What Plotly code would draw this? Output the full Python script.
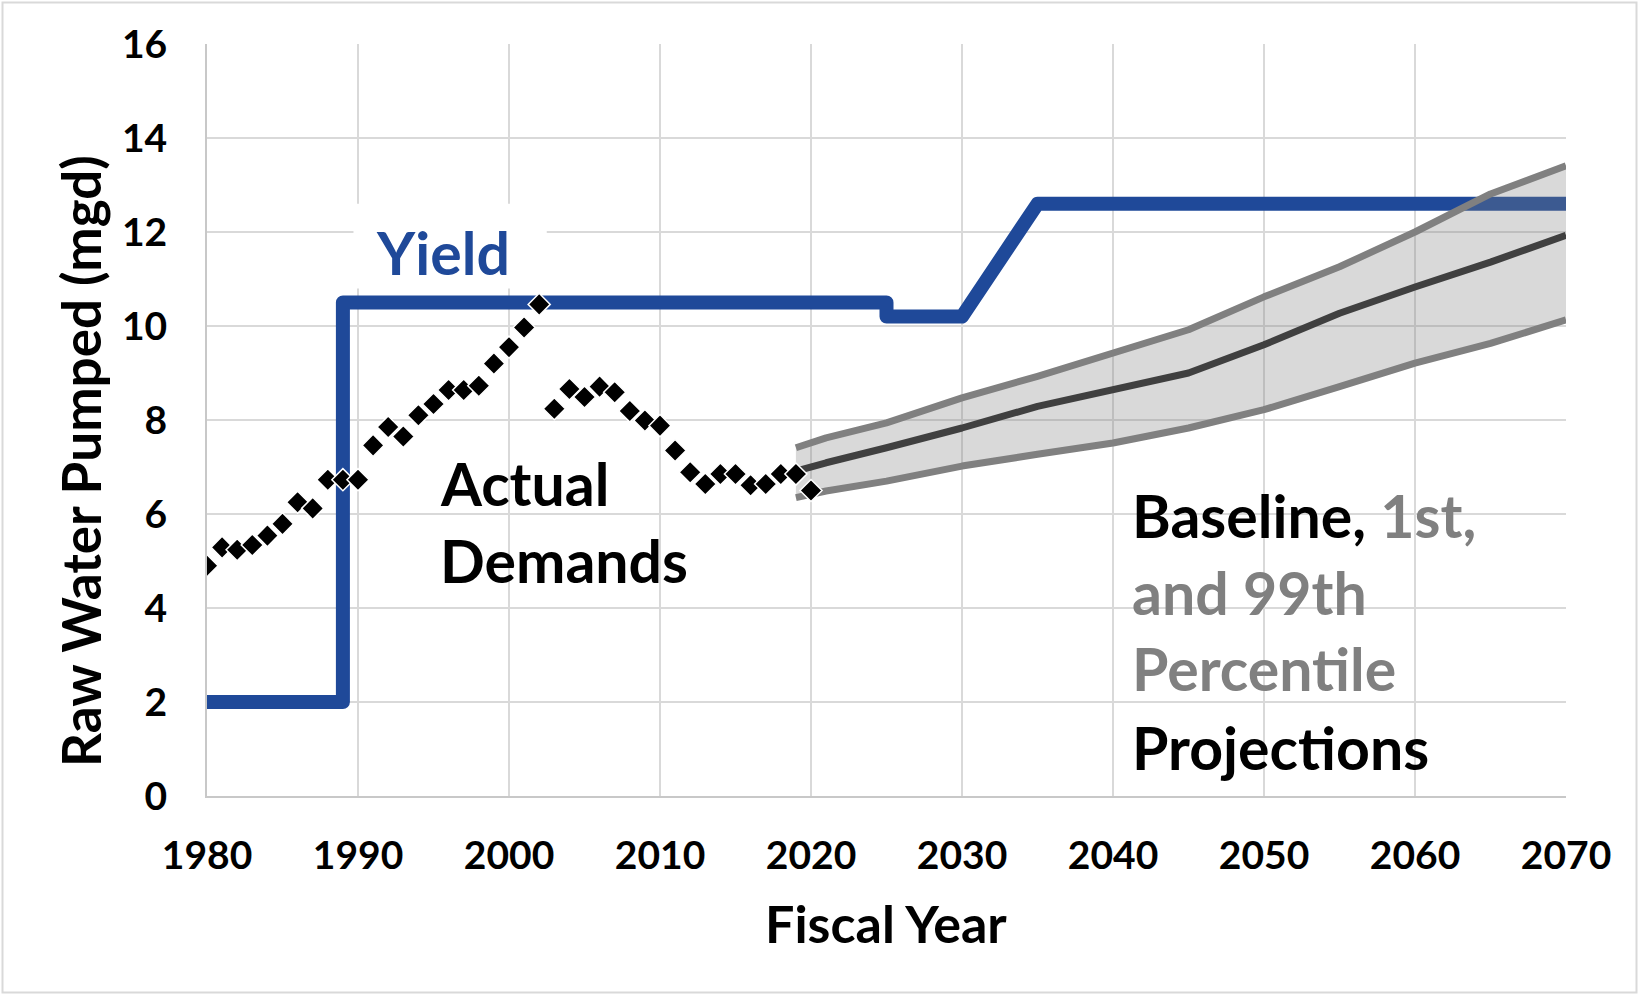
import plotly.graph_objects as go

# ---- data ----
actual_years = list(range(1980, 2021))
actual_mgd = [4.90, 5.29, 5.24, 5.34, 5.54, 5.79, 6.25, 6.12, 6.73, 6.73,
              6.73, 7.46, 7.85, 7.65, 8.10, 8.34, 8.64, 8.64, 8.73, 9.20,
              9.55, 9.97, 10.46, 8.24, 8.66, 8.49, 8.71, 8.59, 8.19, 7.99,
              7.88, 7.35, 6.89, 6.64, 6.85, 6.85, 6.61, 6.64, 6.85, 6.85,
              6.50]

yield_years = [1980, 1989, 1989, 2025, 2025, 2030, 2035, 2070]
yield_mgd = [2.0, 2.0, 10.5, 10.5, 10.2, 10.2, 12.6, 12.6]

proj_years = [2019, 2021, 2025, 2030, 2035, 2040, 2045, 2050, 2055, 2060, 2065, 2070]
proj_p99 = [7.41, 7.62, 7.94, 8.47, 8.93, 9.42, 9.92, 10.62, 11.26, 12.00, 12.81, 13.41]
proj_base = [6.91, 7.09, 7.41, 7.83, 8.29, 8.64, 9.00, 9.60, 10.27, 10.83, 11.36, 11.93]
proj_p01 = [6.35, 6.49, 6.70, 7.02, 7.27, 7.51, 7.83, 8.22, 8.71, 9.21, 9.63, 10.13]

x_ticks = list(range(1980, 2071, 10))
y_ticks = list(range(0, 17, 2))

# ---- style ----
FONT = "Lato"
BLUE = "#1F4999"
GRAY = "#808080"
DARK = "#404040"
W, H = 1639, 995
ML, MR, MT, MB = 207, 73, 44, 199

fig = go.Figure()

fig.add_trace(go.Scatter(x=yield_years, y=yield_mgd, mode="lines",
                         line=dict(color=BLUE, width=14), name="Yield",
                         showlegend=False))
# band (1st .. 99th)
fig.add_trace(go.Scatter(x=proj_years, y=proj_p01, mode="lines",
                         line=dict(color=GRAY, width=7), showlegend=False))
fig.add_trace(go.Scatter(x=proj_years, y=proj_p99, mode="lines",
                         line=dict(color=GRAY, width=7), fill="tonexty",
                         fillcolor="rgba(128,128,128,0.3)", showlegend=False))
fig.add_trace(go.Scatter(x=proj_years, y=proj_base, mode="lines",
                         line=dict(color=DARK, width=7), showlegend=False))
fig.add_trace(go.Scatter(x=actual_years, y=actual_mgd, mode="markers",
                         marker=dict(symbol="diamond", size=17, color="black",
                                     line=dict(color="white", width=1.5)),
                         showlegend=False))

pw = W - ML - MR
ph = H - MT - MB

def px2paper_x(px):
    return (px - ML) / pw

def px2paper_y(py):
    return (H - MB - py) / ph

shapes = [
    # white box behind "Yield"
    dict(type="rect", xref="x", yref="y", x0=1989.7, x1=2002.5, y0=10.8, y1=12.6,
         fillcolor="white", line=dict(width=0), layer="between"),
    # outer chart border
    dict(type="rect", xref="paper", yref="paper",
         x0=px2paper_x(2.5), x1=px2paper_x(W - 2.5),
         y0=px2paper_y(H - 2.5), y1=px2paper_y(2.5),
         line=dict(color="#d9d9d9", width=2), fillcolor="rgba(0,0,0,0)", layer="above"),
]

FS = 59
ann_font = dict(family=FONT, size=FS, color="black")
gray_font = dict(family=FONT, size=FS, color=GRAY)
annotations = [
    dict(x=1995.6, y=11.56, xref="x", yref="y", text="<b>Yield</b>", showarrow=False,
         xanchor="center", yanchor="middle", font=dict(family=FONT, size=FS, color=BLUE)),
    dict(x=1995.3, y=6.64, xref="x", yref="y", text="<b>Actual</b>", showarrow=False,
         xanchor="left", yanchor="middle", font=ann_font),
    dict(x=1995.3, y=5.02, xref="x", yref="y", text="<b>Demands</b>", showarrow=False,
         xanchor="left", yanchor="middle", font=ann_font),
    dict(x=2041.15, y=5.97, xref="x", yref="y",
         text='<b>Baseline, <span style="color:#808080">1st,</span></b>', showarrow=False,
         xanchor="left", yanchor="middle", font=ann_font),
    dict(x=2041.15, y=4.33, xref="x", yref="y", text="<b>and 99th</b>", showarrow=False,
         xanchor="left", yanchor="middle", font=gray_font),
    dict(x=2041.15, y=2.71, xref="x", yref="y", text="<b>Percentile</b>", showarrow=False,
         xanchor="left", yanchor="middle", font=gray_font),
    dict(x=2041.15, y=1.03, xref="x", yref="y", text="<b>Projections</b>", showarrow=False,
         xanchor="left", yanchor="middle", font=ann_font),
    # axis titles
    dict(x=px2paper_x(80), y=px2paper_y(461), xref="paper", yref="paper",
         text="<b>Raw Water Pumped (mgd)</b>", textangle=-90, showarrow=False,
         xanchor="center", yanchor="middle", font=dict(family=FONT, size=53, color="black")),
    dict(x=px2paper_x(886), y=px2paper_y(923), xref="paper", yref="paper",
         text="<b>Fiscal Year</b>", showarrow=False,
         xanchor="center", yanchor="middle", font=dict(family=FONT, size=52, color="black")),
]

fig.update_layout(
    width=W, height=H,
    margin=dict(l=ML, r=MR, t=MT, b=MB, autoexpand=False),
    paper_bgcolor="white", plot_bgcolor="white",
    font=dict(family=FONT, color="black"),
    shapes=shapes, annotations=annotations,
    showlegend=False,
)
fig.update_xaxes(range=[1980, 2070], tickvals=x_ticks,
                 ticktext=[f"<b>{v}</b>" for v in x_ticks],
                 tickfont=dict(family=FONT, size=39, color="black"),
                 showgrid=True, gridcolor="#d9d9d9", gridwidth=2,
                 showline=True, linecolor="#c8c8c8", linewidth=2,
                 ticks="", ticklabelstandoff=24, zeroline=False)
fig.update_yaxes(range=[0, 16], tickvals=y_ticks,
                 ticktext=[f"<b>{v}</b>" for v in y_ticks],
                 tickfont=dict(family=FONT, size=39, color="black"),
                 showgrid=True, gridcolor="#d9d9d9", gridwidth=2,
                 showline=True, linecolor="#c8c8c8", linewidth=2,
                 ticks="", ticklabelstandoff=30, zeroline=False)

post = (
    "document.body.style.margin='0';"
    "document.body.style.overflow='hidden';"
    "document.querySelectorAll('.scatterlayer path.js-line').forEach(function(p){"
    "p.style.strokeLinejoin='round';});"
)
fig.write_html("out.html", config={"displayModeBar": False}, post_script=post)
